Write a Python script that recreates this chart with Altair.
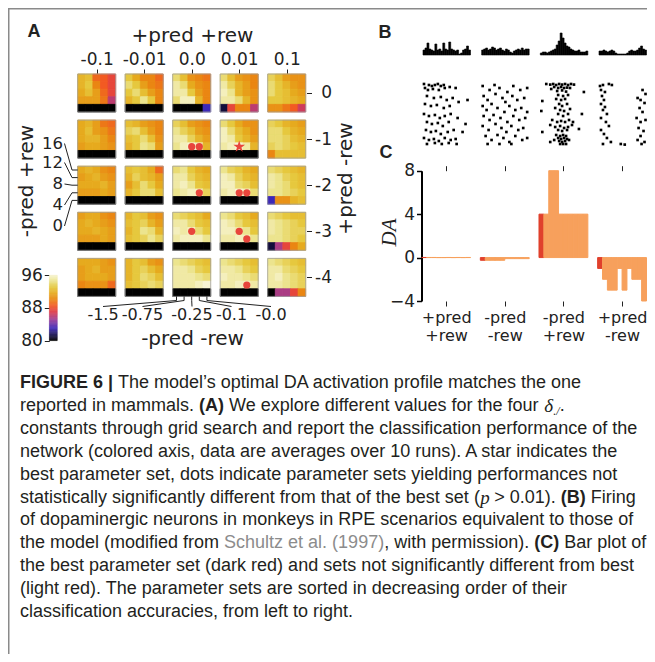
import json
import numpy as np
import pandas as pd
import altair as alt

# ---------------- Panel A : grid search accuracies (%) ----------------
PP_REW_VALUES = ["-0.1", "-0.01", "0.0", "0.01", "0.1"]       # +pred +rew (outer columns)
PP_NREW_VALUES = ["0", "-1", "-2", "-3", "-4"]                  # +pred -rew (outer rows)
NP_NREW_VALUES = ["-1.5", "-0.75", "-0.25", "-0.1", "-0.0"]     # -pred -rew (inner columns)
NP_PREW_VALUES = ["16", "12", "8", "4", "0"]                    # -pred +rew (inner rows, top->bottom)

ACC_ROW_0 = [
    [[92, 92.5, 89, 88.5, 87.5], [92, 93, 90, 88.5, 87.5], [91.5, 92.5, 91, 89, 87.5], [91, 91, 91, 89.5, 86], [80, 80, 80, 80, 80]],
    [[93, 91.5, 90, 90, 89], [94, 93, 91, 90, 89.5], [93, 94, 92.5, 91, 90], [92, 93, 94.5, 93, 90], [80, 80, 80, 80, 80]],
    [[94, 92.5, 90.5, 90, 89.5], [95, 94, 91.5, 90.5, 90], [95, 95, 93, 91, 90], [94, 95.5, 95.5, 92, 90], [80, 80, 80, 80, 83]],
    [[94, 92.5, 91, 90.5, 90], [95, 93.5, 92, 91, 90], [95.5, 94.5, 92, 91, 90.5], [95, 95, 94, 92, 90.5], [81, 87.5, 90, 90, 86]],
    [[93.5, 92.5, 91, 90.5, 90.5], [94, 93, 92, 91, 90.5], [94, 93, 92.5, 91.5, 91], [93, 93, 92.5, 92, 91.5], [90.5, 90.5, 89.5, 88.5, 86.5]],
]
ACC_ROW_1 = [
    [[91.5, 92, 91, 89.5, 89], [91.5, 92.5, 91, 90.5, 89.5], [91.5, 92, 92, 91, 90], [91, 91.5, 91.5, 91, 90.5], [80, 80, 80, 80, 80]],
    [[92.5, 92, 91, 90.5, 90], [93.5, 94, 92.5, 91, 90], [92.5, 93, 94, 92.5, 90.5], [92, 93, 94.5, 94, 91], [80, 80, 80, 80, 80]],
    [[93.5, 92.5, 91, 90.5, 90], [94.5, 93.5, 92.5, 91, 90.5], [95, 95, 93.5, 92, 91], [94.5, 95.5, 96, 95.5, 92], [80, 80, 80, 80, 80]],
    [[94, 93, 91.5, 90.5, 90.5], [95.5, 94, 92.5, 91.5, 90.5], [95.5, 95, 93, 92, 91], [95, 95.5, 96, 95, 92], [80, 80, 80, 80, 80]],
    [[93.5, 93, 92, 91.5, 91], [94, 94, 93, 92, 91.5], [94, 94, 93.5, 92.5, 92], [93.5, 94, 93.5, 93, 92.5], [90, 92.5, 92.5, 92.5, 92.5]],
]
ACC_ROW_2 = [
    [[91.5, 92, 91.5, 90.5, 90], [91, 91.5, 92, 91, 90.5], [91.5, 91.5, 91.5, 92, 91], [91, 91, 91, 91.5, 91], [80, 80, 80, 80, 80]],
    [[92.5, 93, 92.5, 91.5, 89], [92, 93.5, 92.5, 92, 91], [91, 92.5, 94, 93, 91.5], [92, 93, 94, 94, 92.5], [80, 80, 80, 80, 80]],
    [[94, 94.5, 93, 92, 91.5], [95, 95, 93.5, 92.5, 92], [95, 95.5, 94.5, 93, 92.5], [94.5, 95, 95.5, 95.5, 93.5], [80, 80, 80, 80, 80]],
    [[94.5, 93.5, 93, 92, 91.5], [95.5, 95, 93.5, 92.5, 92], [95.5, 95.5, 94, 93.5, 92.5], [95, 95.5, 96, 95.5, 94], [80, 80, 80, 80, 80]],
    [[94, 93.5, 93, 92.5, 92], [95, 94.5, 93.5, 93, 92.5], [95, 94.5, 94, 93, 92.5], [94.5, 94.5, 94, 93.5, 93], [83, 90.5, 90.5, 92, 92.5]],
]
ACC_ROW_3 = [
    [[91, 91.5, 91.5, 90.5, 90], [91.5, 92, 91.5, 91, 90.5], [91.5, 91.5, 92, 91.5, 91], [91, 91, 91, 91.5, 91], [80, 80, 80, 80, 80]],
    [[92, 93, 92.5, 91, 90.5], [92.5, 93, 93.5, 92, 91], [92, 93, 94.5, 94, 92], [92.5, 93, 93.5, 94.5, 93.5], [80, 80, 80, 80, 80]],
    [[94, 93.5, 93, 92.5, 91.5], [95, 95, 94, 93, 92.5], [95.5, 95, 95.5, 94, 93], [95, 95.5, 95.5, 95.5, 94.5], [80, 80, 80, 80, 80]],
    [[94.5, 94, 93, 92.5, 91.5], [95.5, 95, 94, 93, 92.5], [95.5, 95.5, 95, 94.5, 93], [95, 95, 95.5, 95.5, 94.5], [80, 80, 80, 80, 80]],
    [[94, 93.5, 93, 92.5, 92.5], [95, 94.5, 94, 93.5, 93], [95, 94.5, 94, 93.5, 93.5], [94.5, 94.5, 94, 93.5, 93], [81, 85.5, 87.5, 90, 91.5]],
]
ACC_ROW_4 = [
    [[91.5, 91.5, 91.5, 91, 90.5], [91, 91.5, 92, 91, 91], [91, 91.5, 91.5, 91.5, 91], [90, 90.5, 90.5, 90.5, 89], [80, 80, 80, 80, 80]],
    [[92, 93, 92.5, 91, 90.5], [92, 93, 93.5, 92.5, 91.5], [92, 93, 94, 93.5, 92.5], [92.5, 93, 93.5, 94, 93.5], [80, 80, 80, 80, 80]],
    [[94.5, 94, 93.5, 93, 92.5], [95, 95, 94.5, 93.5, 93], [95, 95, 95, 94.5, 94], [95, 95, 95, 95.5, 96], [80, 80, 80, 80, 80]],
    [[94.5, 94, 93.5, 93, 92.5], [95, 95, 94.5, 93.5, 93], [95.5, 95, 95, 94.5, 94], [95, 95, 95.5, 95.5, 95], [80, 80, 80, 80, 80]],
    [[94.5, 94, 93.5, 93, 92.5], [95, 95, 94, 93.5, 93], [95, 95.5, 94.5, 94, 93.5], [95, 95, 94.5, 94, 93.5], [80, 85.5, 85.5, 87.5, 90]],
]
ACC = [ACC_ROW_0, ACC_ROW_1, ACC_ROW_2, ACC_ROW_3, ACC_ROW_4]

# (outer row, outer col, inner row, inner col)
NOT_DIFFERENT = [(1, 2, 3, 2), (1, 2, 3, 3), (2, 2, 3, 3), (2, 3, 3, 2), (2, 3, 3, 3),
                 (3, 2, 2, 2), (3, 3, 2, 2), (3, 3, 3, 3), (4, 3, 3, 3)]
BEST = [(1, 3, 3, 2)]
CBAR_TICKS = [80, 88, 96]

# ---------------- Panel B : Schultz et al. histograms & rasters ----------------
HIST_1 = [5, 7, 12, 6, 5, 4, 11, 5, 6, 4, 12, 6, 5, 13, 6, 5, 4, 5, 1, 2, 5, 6, 9, 5]
HIST_2 = [5, 6, 7, 5, 6, 8, 7, 5, 6, 7, 5, 4, 6, 5, 3, 2, 4, 5, 6, 5, 7, 5, 6, 6]
HIST_3 = [2, 3, 3, 2, 3, 4, 5, 6, 10, 14, 22, 17, 12, 9, 8, 6, 5, 4, 4, 5, 3, 3, 3, 4]
HIST_4 = [4, 4, 5, 4, 3, 4, 5, 4, 2, 1, 1, 1, 1, 1, 2, 4, 5, 4, 4, 5, 7, 9, 6, 5]
HISTS = [HIST_1, HIST_2, HIST_3, HIST_4]

RASTER_1 = [(0.5, 0), (3, 0.5), (4.5, 1), (6, 0.5), (7.5, 0), (9, 1), (10.5, 0.5), (1, 2), (2.5, 3), (5, 2.5),
            (8, 3), (11, 2), (13.5, 1.5), (16.5, 2), (2, 6), (5.5, 7), (9, 6.5), (12, 8), (15, 7), (1, 10),
            (4, 11), (7, 10.5), (10.5, 12), (13.5, 11), (18, 9), (22.5, 8), (0.5, 15), (3, 16), (6, 15.5),
            (8.5, 17), (11, 16), (14, 15), (17.5, 17), (2, 19), (4.5, 20), (7.5, 19.5), (10, 21), (13, 19),
            (21.5, 20), (1.5, 23), (4, 24), (6.5, 23.5), (9, 25), (12.5, 24), (15.5, 23), (20, 24), (0.5, 27),
            (3, 28), (5.5, 27.5), (8, 28.5), (11, 27), (14, 28), (16.5, 27.5), (2, 30), (6, 29.5), (9.5, 30),
            (13, 29.5), (17, 30)]
RASTER_2 = [(0.5, 1), (4, 3), (6.5, 0.5), (9, 2), (13, 4), (16, 1), (19.5, 3), (23, 2), (1, 6), (3, 8), (7, 5),
            (10.5, 7), (12, 9), (15.5, 6), (18, 8), (21.5, 7), (0.5, 11), (2.5, 13), (5, 10), (8, 12), (11.5, 14),
            (14, 11), (17, 13), (20, 12), (23, 14), (1, 16), (4, 18), (6, 15.5), (9.5, 17), (13, 19), (16, 16),
            (19, 18), (22, 17), (0.5, 21), (3.5, 23), (7, 20), (10, 22), (12.5, 24), (15, 21), (18.5, 23),
            (21, 22), (2, 26), (5, 28), (8, 25.5), (11, 27), (14, 29), (17, 26), (20.5, 28), (23, 27), (3, 30),
            (9, 30), (15, 30)]
RASTER_3 = [(3, 0), (5, 0.3), (6.5, 0), (8, 0.5), (9.5, 0), (11, 0.3), (12.5, 0), (14, 0.5), (15.5, 0), (17, 0.3),
            (7, 1.5), (9, 2), (10.5, 1.5), (12, 2), (13.5, 1.8), (15, 2), (5.5, 2.5), (8.5, 3.5), (11, 3.2),
            (13, 3.8), (22, 4), (9, 5.5), (11.5, 6), (14, 5.5), (8, 7.5), (10.5, 8), (12.5, 7.5), (1, 8.5),
            (9.5, 10), (11, 11), (13.5, 10), (7.5, 12), (10, 13), (12, 13.5), (15, 12.5), (0.5, 13.5), (9, 15),
            (11.5, 16), (14, 15), (21, 15), (6, 18), (8.5, 19), (10.5, 18.5), (12.5, 19), (14.5, 18), (16.5, 19),
            (5, 20.5), (7.5, 21.5), (10, 21), (12, 22), (14, 21.5), (16, 20.5), (9, 23), (11, 23.5), (13.5, 23),
            (19.5, 22.5), (1, 24), (8, 25.5), (10, 26), (11.5, 25.5), (13, 26), (9, 27), (10.5, 27.5), (12, 27),
            (13.5, 27.5), (7, 28), (9.5, 28.5), (11, 29), (12.5, 28.5), (14.5, 28), (10, 30), (11.5, 30), (13, 30),
            (5, 29)]
RASTER_4 = [(0.5, 1), (2, 0.5), (5, 0), (6.5, 0.5), (1, 3), (3, 4), (1.5, 6), (2.5, 8), (1, 10), (3, 11.5), (2, 13),
            (4, 15), (1, 17), (3.5, 19), (5, 21), (1, 23), (2.5, 25), (4, 27), (6, 29), (2, 30), (22, 3), (23.5, 5),
            (19.5, 7), (21, 8), (23, 9.5), (20.5, 12), (22, 14), (19, 17), (21, 19), (23.5, 18), (20, 22),
            (22.5, 23.5), (21, 26), (19.5, 28), (23, 29), (21.5, 30), (11, 30), (13, 30.3)]
RASTERS = [RASTER_1, RASTER_2, RASTER_3, RASTER_4]

# ---------------- Panel C : DA values of best / not-different sets ----------------
C_LABELS = [["+pred", "+rew"], ["-pred", "-rew"], ["-pred", "+rew"], ["+pred", "-rew"]]
DA_PP_REW = [0.01, 0.01, 0.01, 0.0, 0.0, 0.01, 0.0, 0.01, 0.0, 0.01]
DA_NP_NREW = [-0.25, -0.25, -0.25, -0.25, -0.25, -0.1, -0.1, -0.1, -0.1, -0.1]
DA_NP_PREW = [4, 4, 8, 8, 4, 4, 4, 4, 4, 4]
DA_PP_NREW = [-1, -2, -3, -3, -1, -3, -1, -2, -2, -4]
DA_GROUPS = [DA_PP_REW, DA_NP_NREW, DA_NP_PREW, DA_PP_NREW]

# ---------------- Caption ----------------
CAPTION = [
    [("FIGURE 6 |", "b"), (" The model\u2019s optimal DA activation profile matches the one", "r")],
    [("reported in mammals. ", "r"), ("(A)", "b"), (" We explore different values for the four ", "r"),
     ("\u03b4", "m"), ("./", "s"), (".", "r")],
    [("constants through grid search and report the classification performance of the", "r")],
    [("network (colored axis, data are averages over 10 runs). A star indicates the", "r")],
    [("best parameter set, dots indicate parameter sets yielding performances not", "r")],
    [("statistically significantly different from that of the best set (", "r"), ("p", "m"),
     (" > 0.01). ", "r"), ("(B)", "b"), (" Firing", "r")],
    [("of dopaminergic neurons in monkeys in RPE scenarios equivalent to those of", "r")],
    [("the model (modified from ", "r"), ("Schultz et al. (1997)", "g"), (", with permission). ", "r"),
     ("(C)", "b"), (" Bar plot of", "r")],
    [("the best parameter set (dark red) and sets not significantly different from best", "r")],
    [("(light red). The parameter sets are sorted in decreasing order of their", "r")],
    [("classification accuracies, from left to right.", "r")],
]

# =====================================================================
W, H = 639, 646


def P(v):
    return v - 8


def S(domain, rng):
    return alt.Scale(domain=domain, range=rng, nice=False, zero=False)


NOAX = None
TXT = "#222222"
SANS = "DejaVu Sans"
STAR_PATH = ("M0,-1L0.2245,-0.309L0.951,-0.309L0.363,0.118L0.588,0.809L0,0.382L-0.588,0.809"
             "L-0.363,0.118L-0.951,-0.309L-0.2245,-0.309Z")

# ---- colour map (black-blue-purple-red-orange-yellow-white) ----
CMAP = alt.Scale(
    domain=[80, 81.5, 83, 85, 87, 88.5, 90, 91.5, 93, 94.5, 96],
    range=["#000000", "#1c1458", "#3c28b8", "#983c98", "#e03c48", "#f25a22",
           "#ea8612", "#e6aa1e", "#e6c83e", "#ece48e", "#f8f4d4"],
    clamp=True, interpolate="rgb")

# ---- Panel A layout ----
AX0, AX1, AY0, AY1 = 77.7, 305.7, 74.0, 296.4
GX, GY = 6.25, 6.07
UX = (AX1 - AX0) / (4 * GX + 5)
UY = (AY1 - AY0) / (4 * GY + 5)
sxA = S([0, 4 * GX + 5], [P(AX0), P(AX1)])
syA = S([0, 4 * GY + 5], [P(AY0), P(AY1)])


def gx(px):
    return (px - AX0) / UX


def gy(py):
    return (py - AY0) / UY


cells = []
for orow, blocks in enumerate(ACC):
    for ocol, block in enumerate(blocks):
        for irow, line in enumerate(block):
            for icol, v in enumerate(line):
                x0 = ocol * GX + icol
                y0 = orow * GY + irow
                cells.append(dict(x=x0, x2=x0 + 1, y=y0, y2=y0 + 1, v=v))
df_cells = pd.DataFrame(cells)

blocks_df = pd.DataFrame([dict(x=c * GX, x2=c * GX + 5, y=r * GY, y2=r * GY + 5)
                          for r in range(5) for c in range(5)])

top_expr = "%s[round((datum.value - 2.5) / %s)]" % (json.dumps(PP_REW_VALUES), GX)
right_expr = "%s[round((datum.value - 2.5) / %s)]" % (json.dumps(PP_NREW_VALUES), GY)

heat = alt.Chart(df_cells).mark_rect(strokeWidth=0.9).encode(
    x=alt.X("x:Q", scale=sxA, axis=alt.Axis(
        orient="top", offset=-P(AY0), values=[c * GX + 2.5 for c in range(5)], labelExpr=top_expr,
        tickSize=5, tickColor=TXT, domain=False, grid=False, labelFont=SANS, labelFontSize=17,
        labelColor=TXT, labelPadding=1, labelAngle=0,
        title="+pred +rew", titleFont=SANS, titleFontSize=20, titleFontWeight="normal", titleColor=TXT,
        titleX=P(192), titleY=35 - AY0, titleAlign="center", titleBaseline="middle")),
    x2="x2",
    y=alt.Y("y:Q", scale=syA, axis=alt.Axis(
        orient="right", offset=P(306.5) - W, values=[r * GY + 2.5 for r in range(5)], labelExpr=right_expr,
        tickSize=5, tickColor=TXT, domain=False, grid=False, labelFont=SANS, labelFontSize=17,
        labelColor=TXT, labelAlign="right", labelPadding=20,
        title="+pred -rew", titleFont=SANS, titleFontSize=20, titleFontWeight="normal", titleColor=TXT,
        titleAngle=270, titleX=345 - 306.5, titleY=P(178), titleAlign="center", titleBaseline="middle")),
    y2="y2",
    color=alt.Color("v:Q", scale=CMAP, legend=None),
    stroke=alt.Stroke("v:Q", scale=CMAP, legend=None),
)

frames = alt.Chart(blocks_df).mark_rect(fillOpacity=0, stroke="#a0a0a0", strokeWidth=0.8).encode(
    x=alt.X("x:Q", scale=sxA, axis=NOAX), x2="x2",
    y=alt.Y("y:Q", scale=syA, axis=NOAX), y2="y2")

dots_df = pd.DataFrame([dict(x=oc * GX + ic + 0.5, y=orr * GY + ir + 0.5) for orr, oc, ir, ic in NOT_DIFFERENT])
star_df = pd.DataFrame([dict(x=oc * GX + ic + 0.5, y=orr * GY + ir + 0.5) for orr, oc, ir, ic in BEST])
dots = alt.Chart(dots_df).mark_point(shape="circle", filled=True, size=52, color="#e8453c", opacity=1).encode(
    x=alt.X("x:Q", scale=sxA, axis=NOAX), y=alt.Y("y:Q", scale=syA, axis=NOAX))
star = alt.Chart(star_df).mark_point(shape=STAR_PATH, filled=True, size=150, color="#e8453c", opacity=1).encode(
    x=alt.X("x:Q", scale=sxA, axis=NOAX), y=alt.Y("y:Q", scale=syA, axis=NOAX))

# inner axis labels with leader lines
LEFT_LY = [143.5, 162.5, 184, 205, 226]
BOT_LX = [103, 142.5, 192, 231.5, 271]
left_lab = pd.DataFrame(dict(t=NP_PREW_VALUES, x=[gx(63)] * 5, y=[gy(v) for v in LEFT_LY]))
bot_lab = pd.DataFrame(dict(t=NP_NREW_VALUES, x=[gx(v) for v in BOT_LX], y=[gy(315)] * 5))
lead = []
for i, ly in enumerate(LEFT_LY):
    cy = 2 * GY + i + 0.5
    pts = [(gx(64.5), gy(ly)), (gx(72), cy), (0, cy)]
    for k, (a, b) in enumerate(pts):
        lead.append(dict(id="L%d" % i, k=k, x=a, y=b))
for i, lx in enumerate(BOT_LX):
    cx = 2 * GX + i + 0.5
    pts = [(gx(lx), gy(306.5)), (cx, gy(300.5)), (cx, 4 * GY + 5)]
    for k, (a, b) in enumerate(pts):
        lead.append(dict(id="B%d" % i, k=k, x=a, y=b))
lead_df = pd.DataFrame(lead)

leaders = alt.Chart(lead_df).mark_line(color=TXT, strokeWidth=1).encode(
    x=alt.X("x:Q", scale=sxA, axis=NOAX), y=alt.Y("y:Q", scale=syA, axis=NOAX),
    detail="id:N", order="k:Q")
left_text = alt.Chart(left_lab).mark_text(font=SANS, fontSize=16.5, color=TXT, align="right",
                                          baseline="middle").encode(
    x=alt.X("x:Q", scale=sxA, axis=NOAX), y=alt.Y("y:Q", scale=syA, axis=NOAX), text="t:N")
bot_text = alt.Chart(bot_lab).mark_text(font=SANS, fontSize=16, color=TXT, align="center",
                                        baseline="middle").encode(
    x=alt.X("x:Q", scale=sxA, axis=NOAX), y=alt.Y("y:Q", scale=syA, axis=NOAX), text="t:N")

# colour bar
cb_df = pd.DataFrame(dict(v=np.arange(80, 96, 0.2)))
cb_df["v2"] = cb_df["v"] + 0.2
cb_df["x"] = 0
cb_df["x2"] = 1
cbar = alt.Chart(cb_df).mark_rect(strokeWidth=0.3).encode(
    x=alt.X("x:Q", scale=S([0, 1], [P(49.3), P(57.3)]), axis=NOAX), x2="x2",
    y=alt.Y("v:Q", scale=S([80, 96], [P(340.7), P(275)]), axis=alt.Axis(
        orient="left", offset=-P(49.3), values=CBAR_TICKS, tickSize=5, tickColor=TXT, domain=False,
        grid=False, labelFont=SANS, labelFontSize=17, labelColor=TXT, labelPadding=2, title=None)),
    y2="v2",
    color=alt.Color("v:Q", scale=CMAP, legend=None),
    stroke=alt.Stroke("v:Q", scale=CMAP, legend=None),
)

# ---- Panel B ----
HP = 29.65
sxB = S([0, 3 * HP + 24], [P(423), P(646.5)])
hist_rows = []
for h, vals in enumerate(HISTS):
    for b, v in enumerate(vals):
        hist_rows.append(dict(x=h * HP + b, x2=h * HP + b + 1, y=v, y0=0))
hist_df = pd.DataFrame(hist_rows)
hists = alt.Chart(hist_df).mark_rect(color="black", stroke="black", strokeWidth=0.6).encode(
    x=alt.X("x:Q", scale=sxB, axis=NOAX), x2="x2",
    y=alt.Y("y:Q", scale=S([0, 25], [P(55), P(30)]), axis=NOAX), y2="y0")
ras_rows = []
for h, pts in enumerate(RASTERS):
    for t, tr in pts:
        ras_rows.append(dict(x=h * HP + t, y=tr))
ras_df = pd.DataFrame(ras_rows)
rasters = alt.Chart(ras_df).mark_point(shape="square", filled=True, size=7, color="black", opacity=1).encode(
    x=alt.X("x:Q", scale=sxB, axis=NOAX),
    y=alt.Y("y:Q", scale=S([0, 30], [P(84), P(144)]), axis=NOAX))

# ---- Panel C ----
sxC = S([0, 46], [P(421.7), P(646.5)])
syC = S([-4, 8], [P(301), P(170.7)])
bar_rows = []
for g, vals in enumerate(DA_GROUPS):
    for k, v in enumerate(vals):
        bar_rows.append(dict(x=12 * g + k, x2=12 * g + k + 1, v=v, zero=0, kind="best" if k == 0 else "other"))
bar_df = pd.DataFrame(bar_rows)
KIND = alt.Scale(domain=["best", "other"], range=["#e0402c", "#f7a05c"])
c_expr = "%s[round((datum.value - 5) / 12)]" % json.dumps(C_LABELS)
bars = alt.Chart(bar_df).mark_rect(strokeWidth=1).encode(
    x=alt.X("x:Q", scale=sxC, axis=alt.Axis(
        orient="bottom", offset=P(301) - H, values=[5, 17, 29, 41], labelExpr=c_expr, tickSize=5,
        tickColor=TXT, domain=False, grid=False, labelFont=SANS, labelFontSize=16, labelColor=TXT,
        labelLineHeight=18, labelPadding=3, labelAngle=0, title=None)),
    x2="x2",
    y=alt.Y("v:Q", scale=syC, axis=alt.Axis(
        orient="left", offset=-P(421.5), values=[-4, 0, 4, 8], tickSize=5, tickColor="black", tickWidth=1.5,
        domainColor="black", domainWidth=2, grid=False, labelFont=SANS, labelFontSize=17, labelColor=TXT,
        labelPadding=2, title="DA", titleFont="Liberation Serif", titleFontStyle="italic",
        titleFontWeight="normal", titleFontSize=21, titleColor=TXT, titleAngle=270,
        titleX=389 - 421.5, titleY=P(232), titleAlign="center", titleBaseline="middle")),
    y2="zero",
    color=alt.Color("kind:N", scale=KIND, legend=None),
    stroke=alt.Stroke("kind:N", scale=KIND, legend=None),
)
top_ticks = alt.Chart(bar_df).mark_point(opacity=0).encode(
    x=alt.X("x:Q", scale=sxC, axis=alt.Axis(
        orient="top", offset=-P(170.7), values=[5, 17, 29, 41], labels=False, tickSize=5, tickColor=TXT,
        domain=False, grid=False, title=None)),
    y=alt.Y("v:Q", scale=syC, axis=NOAX))


# ---- free text ----
def label(text, x, y, size, font=SANS, weight="normal", angle=0, align="center"):
    return alt.Chart(alt.Data(values=[{}])).mark_text(
        text=text, font=font, fontSize=size, fontWeight=weight, angle=angle, align=align,
        baseline="middle", color=TXT).encode(x=alt.value(P(x)), y=alt.value(P(y)))


letters = [label("A", 34, 32, 18, "Liberation Sans", "bold"),
           label("B", 385, 33, 18, "Liberation Sans", "bold"),
           label("C", 386, 153, 18, "Liberation Sans", "bold"),
           label("-pred +rew", 27, 181, 20, angle=270),
           label("-pred -rew", 192.5, 339, 20)]

# frame lines (top and left edges of the figure box)
frame_top = alt.Chart(alt.Data(values=[{}])).mark_rule(color="#8a8a8a", strokeWidth=1.5).encode(
    x=alt.value(0), x2=alt.value(W), y=alt.value(0.75))
frame_left = alt.Chart(alt.Data(values=[{}])).mark_rule(color="#8a8a8a", strokeWidth=1.5).encode(
    x=alt.value(0.75), y=alt.value(0), y2=alt.value(H))

# ---- caption ----
HELV = {' ': 278, '!': 278, '(': 333, ')': 333, ',': 278, '-': 333, '.': 278, '/': 278, ':': 278, '>': 584,
        '|': 260, '\u2019': 222, 'A': 667, 'B': 667, 'C': 722, 'D': 722, 'E': 667, 'F': 611, 'G': 778,
        'I': 278, 'P': 667, 'R': 722, 'S': 667, 'T': 611, 'U': 722, 'W': 944,
        'a': 556, 'b': 556, 'c': 500, 'd': 556, 'e': 556, 'f': 278, 'g': 556, 'h': 556, 'i': 222, 'j': 222,
        'k': 500, 'l': 222, 'm': 833, 'n': 556, 'o': 556, 'p': 556, 'q': 556, 'r': 333, 's': 500, 't': 278,
        'u': 556, 'v': 500, 'w': 722, 'x': 500, 'y': 500, 'z': 500}
HELVB = {'A': 722, 'B': 722, 'C': 722, 'F': 611, 'G': 778, 'I': 278, 'U': 722, 'R': 722, 'E': 667,
         '|': 280, '(': 333, ')': 333, ' ': 278}
FS, SUB = 18.0, 12.0


def wem(text, style):
    tot = 0.0
    for ch in text:
        if style == "b":
            tot += HELVB.get(ch, 611 if ch.isupper() else 556)
        elif style == "m":
            tot += 500
        else:
            tot += HELV.get(ch, 556)
    tot /= 1000.0
    return tot * (SUB / FS) if style == "s" else tot


cap_rows = []
for li, segs in enumerate(CAPTION):
    xe = 0.0
    for text, style in segs:
        core = text.strip(" ")
        lead_sp = len(text) - len(text.lstrip(" "))
        if core:
            cap_rows.append(dict(line=li, xe=xe + wem(" " * lead_sp, "r"), t=core, s=style))
        xe += wem(text, style)
cap_df = pd.DataFrame(cap_rows)
sxT = S([0, 40], [P(20), P(20) + 40 * FS])
syT = S([0, 10], [P(383), P(612)])


def cap_layer(style, **kw):
    base = dict(font="Liberation Sans", fontSize=FS, color="#231f20", align="left", baseline="middle")
    base.update(kw)
    return alt.Chart(cap_df).transform_filter(alt.datum.s == style).mark_text(**base).encode(
        x=alt.X("xe:Q", scale=sxT, axis=NOAX), y=alt.Y("line:Q", scale=syT, axis=NOAX), text="t:N")


caption = [cap_layer("r"), cap_layer("b", fontWeight="bold"), cap_layer("g", color="#8c8c8c"),
           cap_layer("m", font="Liberation Serif", fontStyle="italic", fontSize=19),
           cap_layer("s", font="Liberation Serif", fontStyle="italic", fontSize=SUB, dy=5)]

chart = alt.layer(
    frame_top, frame_left,
    heat, frames, dots, star, leaders, left_text, bot_text, cbar,
    hists, rasters, bars, top_ticks, *letters, *caption
).resolve_scale(
    x="independent", y="independent", color="independent", stroke="independent"
).properties(
    width=W, height=H, padding=0, autosize=alt.AutoSizeParams(type="none"), background="white"
).configure_view(strokeWidth=0, stroke="transparent")

chart.save("out.html", embed_options={"renderer": "svg", "actions": False})
